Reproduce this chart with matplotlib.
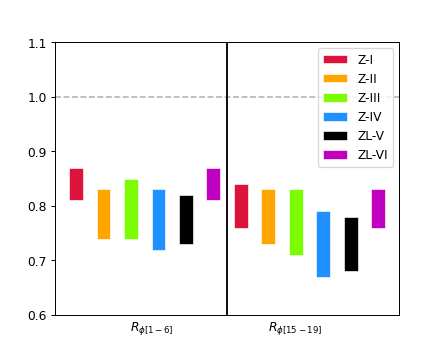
import numpy as np
import matplotlib.pyplot as plt

# floating bars: bottom/top of each range, two groups of six models
models = ["Z-I", "Z-II", "Z-III", "Z-IV", "ZL-V", "ZL-VI"]
colors = ["crimson", "orange", "lawngreen", "dodgerblue", "black", "m"]
group_labels = [r"$R_{\phi[1-6]}$", r"$R_{\phi[15-19]}$"]

low_1 = [0.81, 0.74, 0.74, 0.72, 0.73, 0.81]
high_1 = [0.87, 0.83, 0.85, 0.83, 0.82, 0.87]
low_2 = [0.76, 0.73, 0.71, 0.67, 0.68, 0.76]
high_2 = [0.84, 0.83, 0.83, 0.79, 0.78, 0.83]

fig, ax = plt.subplots(figsize=(5, 4))

n = len(models)
for i, (name, c) in enumerate(zip(models, colors)):
    xs = [i, i + n]
    lows = np.array([low_1[i], low_2[i]])
    highs = np.array([high_1[i], high_2[i]])
    ax.bar(xs, highs - lows, bottom=lows, width=0.5, color=c,
           edgecolor="white", linewidth=0.5, label=name)

ax.axhline(1.0, ls="--", color="gray", alpha=0.6, lw=1.3)
ax.axvline(n - 0.5, color="black", lw=1.5)

ax.set_xlim(-0.75, 2 * n - 0.25)
ax.set_ylim(0.6, 1.1)
ax.set_yticks(np.arange(0.6, 1.11, 0.1))
ax.set_xticks([2.75, 8.0])
ax.set_xticklabels(group_labels)
ax.tick_params(axis="x", length=0)
ax.legend(loc="upper right")

plt.savefig("out.png", dpi=88.6)
